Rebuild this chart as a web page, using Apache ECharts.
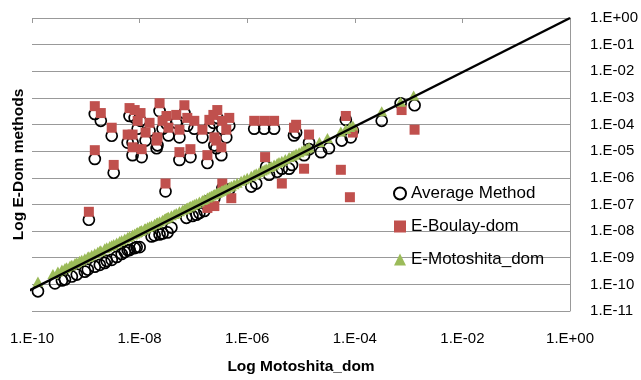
<!DOCTYPE html>
<html>
<head>
<meta charset="utf-8">
<script src="https://cdn.jsdelivr.net/npm/echarts@6/dist/echarts.min.js"></script>
<style>
  html, body { margin: 0; padding: 0; background: #fff; }
  #chart { width: 641px; height: 380px; }
</style>
</head>
<body>
<div id="chart"></div>
<script>
// tick labels
const xTickLabels = ['1.E-10', '1.E-08', '1.E-06', '1.E-04', '1.E-02', '1.E+00']
const yTickLabels = ['1.E-11', '1.E-10', '1.E-09', '1.E-08', '1.E-07', '1.E-06',
  '1.E-05', '1.E-04', '1.E-03', '1.E-02', '1.E-01', '1.E+00']

// [Motoshita_dom, Average Method]
const averagePoints = [
  [1.47e-9, 2.5e-4], [1.9e-9, 1.38e-4], [3.03e-9, 3.8e-5], [1.47e-9, 5.1e-6], [3.3e-9, 1.55e-6],
  [6.5e-9, 2.1e-4], [8.1e-9, 1.78e-4], [1.04e-8, 1.38e-4], [6.0e-9, 2.1e-5], [7.4e-9, 2.1e-5],
  [7.4e-9, 7.1e-6], [1.09e-8, 6.0e-6], [9.2e-9, 7.0e-5], [1.53e-8, 5.9e-5], [1.29e-8, 2.5e-5],
  [2.35e-8, 3.2e-4], [2.15e-8, 1.66e-5], [2.07e-8, 1.29e-5], [2.67e-8, 7.0e-5], [3.16e-8, 1.07e-4],
  [3.44e-8, 3.9e-5], [4.8e-8, 1.16e-4], [6.8e-8, 2.7e-4], [5.5e-8, 3.3e-5], [7.7e-8, 9.0e-5],
  [1.04e-7, 7.0e-5], [5.5e-8, 4.7e-6], [8.8e-8, 6.0e-6], [1.47e-7, 3.3e-5], [1.98e-7, 7.6e-5],
  [2.78e-7, 1.78e-4], [2.35e-7, 1.16e-4], [3.44e-7, 7.0e-5], [4.64e-7, 9.0e-5], [4.08e-7, 3.3e-5],
  [2.45e-7, 1.66e-5], [2.67e-7, 1.29e-5], [3.3e-7, 7.1e-6], [1.82e-7, 3.6e-6], [1.35e-6, 7.0e-5],
  [2.07e-6, 7.0e-5], [3.16e-6, 7.0e-5], [8.1e-6, 5.0e-5], [7.4e-6, 3.9e-5], [1.41e-5, 2.1e-5],
  [6.8e-5, 1.5e-4], [3.03e-8, 3.1e-7], [1.14e-9, 2.67e-8], [2.25e-6, 2.6e-6], [3.44e-7, 4.0e-7],
  [4.64e-7, 3.7e-7], [2.45e-7, 1.7e-7], [1.82e-7, 1.3e-7], [4.4e-6, 2.2e-6], [1.14e-5, 7.1e-6],
  [5.7e-5, 2.5e-5], [8.4e-5, 3.3e-5], [7.1e-4, 6.3e-4], [1.29e-3, 5.3e-4], [9.2e-5, 5.9e-5],
  [1.29e-10, 5.5e-11], [2.67e-10, 1.09e-10], [3.6e-10, 1.4e-10], [4.1e-10, 1.53e-10], [5.5e-10, 1.97e-10],
  [6.8e-10, 2.33e-10], [9.6e-10, 3.0e-10], [1.09e-9, 3.6e-10], [1.47e-9, 4.6e-10], [1.82e-9, 5.4e-10],
  [2.25e-9, 6.4e-10], [2.45e-9, 7.6e-10], [3.03e-9, 8.3e-10], [3.75e-9, 1.07e-9], [4.64e-9, 1.38e-9],
  [5.3e-9, 1.63e-9], [6.0e-9, 1.94e-9], [6.5e-9, 1.94e-9], [8.1e-9, 2.3e-9], [8.8e-9, 2.5e-9],
  [1.0e-8, 2.5e-9], [1.67e-8, 6.3e-9], [1.9e-8, 6.9e-9], [2.35e-8, 7.5e-9], [2.67e-8, 8.2e-9],
  [3.3e-8, 8.9e-9], [3.9e-8, 1.36e-8], [7.4e-8, 3.16e-8], [9.6e-8, 3.7e-8], [1.14e-7, 4.1e-8],
  [1.29e-7, 4.8e-8], [1.6e-7, 5.7e-8], [1.19e-6, 4.7e-7], [1.47e-6, 6.1e-7], [2.55e-6, 1.31e-6],
  [3.6e-6, 1.69e-6], [6.0e-6, 2.2e-6], [6.8e-6, 3.05e-6], [1.41e-5, 1.19e-5], [2.35e-5, 9.2e-6],
  [3.3e-5, 1.29e-5], [3.16e-4, 1.38e-4]
]

// [Motoshita_dom, E-Boulay-dom]
const boulayPoints = [
  [1.47e-9, 4.9e-4], [1.9e-9, 2.7e-4], [3.03e-9, 7.6e-5], [1.47e-9, 1.09e-5], [3.3e-9, 3.05e-6],
  [6.5e-9, 4.15e-4], [8.1e-9, 3.5e-4], [1.04e-8, 2.7e-4], [6.0e-9, 4.2e-5], [7.4e-9, 4.2e-5],
  [7.4e-9, 1.4e-5], [1.09e-8, 1.19e-5], [9.2e-9, 1.38e-4], [1.53e-8, 1.16e-4], [1.29e-8, 5.0e-5],
  [2.35e-8, 6.3e-4], [2.15e-8, 3.3e-5], [2.07e-8, 2.5e-5], [2.67e-8, 1.38e-4], [3.16e-8, 2.1e-4],
  [3.44e-8, 7.6e-5], [4.8e-8, 2.3e-4], [6.8e-8, 5.3e-4], [5.5e-8, 6.4e-5], [7.7e-8, 1.78e-4],
  [1.04e-7, 1.38e-4], [5.5e-8, 9.2e-6], [8.8e-8, 1.19e-5], [1.47e-7, 6.4e-5], [1.98e-7, 1.5e-4],
  [2.78e-7, 3.5e-4], [2.35e-7, 2.3e-4], [3.44e-7, 1.38e-4], [4.64e-7, 1.78e-4], [4.08e-7, 6.4e-5],
  [2.45e-7, 3.3e-5], [2.67e-7, 2.5e-5], [3.3e-7, 1.4e-5], [1.82e-7, 7.1e-6], [1.35e-6, 1.38e-4],
  [2.07e-6, 1.38e-4], [3.16e-6, 1.38e-4], [8.1e-6, 9.8e-5], [7.4e-6, 7.6e-5], [1.41e-5, 4.2e-5],
  [6.8e-5, 2.1e-4], [3.03e-8, 6.1e-7], [1.14e-9, 5.3e-8], [2.15e-6, 6.0e-6], [3.44e-7, 6.1e-7],
  [5.06e-7, 1.72e-7], [2.45e-7, 8.7e-8], [1.82e-7, 7.4e-8], [4.4e-6, 6.1e-7], [1.14e-5, 2.2e-6],
  [5.5e-5, 2.0e-6], [8.1e-5, 1.87e-7], [7.4e-4, 3.5e-4], [1.29e-3, 6.4e-5], [9.2e-5, 5.0e-5]
]

// [Motoshita_dom, E-Motoshita_dom]
const motoshitaPoints = [
  [1.29e-10, 1.29e-10], [2.45e-10, 2.45e-10], [3.03e-10, 3.03e-10], [3.6e-10, 3.6e-10], [4.1e-10, 4.1e-10],
  [4.4e-10, 4.4e-10], [5.1e-10, 5.1e-10], [5.5e-10, 5.5e-10], [6.3e-10, 6.3e-10], [6.8e-10, 6.8e-10],
  [7.7e-10, 7.7e-10], [8.4e-10, 8.4e-10], [9.6e-10, 9.6e-10], [1.09e-9, 1.09e-9], [1.14e-9, 1.14e-9],
  [1.29e-9, 1.29e-9], [1.47e-9, 1.47e-9], [1.67e-9, 1.67e-9], [1.82e-9, 1.82e-9], [1.9e-9, 1.9e-9],
  [2.25e-9, 2.25e-9], [2.45e-9, 2.45e-9], [2.78e-9, 2.78e-9], [3.03e-9, 3.03e-9], [3.3e-9, 3.3e-9],
  [3.75e-9, 3.75e-9], [4.26e-9, 4.26e-9], [4.64e-9, 4.64e-9], [5.3e-9, 5.3e-9], [6.0e-9, 6.0e-9],
  [6.5e-9, 6.5e-9], [7.4e-9, 7.4e-9], [8.1e-9, 8.1e-9], [8.8e-9, 8.8e-9], [9.2e-9, 9.2e-9],
  [1.0e-8, 1.0e-8], [1.04e-8, 1.04e-8], [1.09e-8, 1.09e-8], [1.24e-8, 1.24e-8], [1.29e-8, 1.29e-8],
  [1.41e-8, 1.41e-8], [1.53e-8, 1.53e-8], [1.67e-8, 1.67e-8], [1.9e-8, 1.9e-8], [2.07e-8, 2.07e-8],
  [2.15e-8, 2.15e-8], [2.35e-8, 2.35e-8], [2.67e-8, 2.67e-8], [2.9e-8, 2.9e-8], [3.03e-8, 3.03e-8],
  [3.16e-8, 3.16e-8], [3.3e-8, 3.3e-8], [3.44e-8, 3.44e-8], [3.9e-8, 3.9e-8], [4.4e-8, 4.4e-8],
  [4.8e-8, 4.8e-8], [5.5e-8, 5.5e-8], [6.3e-8, 6.3e-8], [6.8e-8, 6.8e-8], [7.4e-8, 7.4e-8],
  [7.7e-8, 7.7e-8], [8.4e-8, 8.4e-8], [8.8e-8, 8.8e-8], [9.6e-8, 9.6e-8], [1.04e-7, 1.04e-7],
  [1.14e-7, 1.14e-7], [1.29e-7, 1.29e-7], [1.47e-7, 1.47e-7], [1.6e-7, 1.6e-7], [1.82e-7, 1.82e-7],
  [1.98e-7, 1.98e-7], [2.15e-7, 2.15e-7], [2.35e-7, 2.35e-7], [2.45e-7, 2.45e-7], [2.67e-7, 2.67e-7],
  [2.78e-7, 2.78e-7], [3.03e-7, 3.03e-7], [3.3e-7, 3.3e-7], [3.44e-7, 3.44e-7], [3.75e-7, 3.75e-7],
  [4.08e-7, 4.08e-7], [4.64e-7, 4.64e-7], [5.06e-7, 5.06e-7], [5.7e-7, 5.7e-7], [6.5e-7, 6.5e-7],
  [7.7e-7, 7.7e-7], [8.8e-7, 8.8e-7], [1.0e-6, 1.0e-6], [1.19e-6, 1.19e-6], [1.35e-6, 1.35e-6],
  [1.47e-6, 1.47e-6], [1.67e-6, 1.67e-6], [1.9e-6, 1.9e-6], [2.07e-6, 2.07e-6], [2.25e-6, 2.25e-6],
  [2.55e-6, 2.55e-6], [2.78e-6, 2.78e-6], [3.16e-6, 3.16e-6], [3.6e-6, 3.6e-6], [3.9e-6, 3.9e-6],
  [4.4e-6, 4.4e-6], [5.1e-6, 5.1e-6], [6.0e-6, 6.0e-6], [6.8e-6, 6.8e-6], [7.4e-6, 7.4e-6],
  [8.1e-6, 8.1e-6], [9.2e-6, 9.2e-6], [1.04e-5, 1.04e-5], [1.14e-5, 1.14e-5], [1.29e-5, 1.29e-5],
  [1.41e-5, 1.41e-5], [2.2e-5, 2.2e-5], [3.1e-5, 3.1e-5], [5.5e-5, 5.5e-5], [6.8e-5, 6.8e-5],
  [8.1e-5, 8.1e-5], [9.2e-5, 9.2e-5], [3.16e-4, 3.16e-4], [7.1e-4, 7.1e-4], [1.24e-3, 1.24e-3]
]

// 1:1 reference line
const linePoints = [[7.7e-11, 5.1e-11], [1, 1]]

const chart = echarts.init(document.getElementById('chart'))
const font = "'Liberation Sans', Arial, sans-serif"
const expOf = v => Math.round(Math.log10(v))

const option = {
  animation: false,
  textStyle: { fontFamily: font },
  grid: { left: 32, right: 69, top: 18, bottom: 63 },
  legend: {
    orient: 'vertical',
    left: 393,
    top: 185,
    itemWidth: 12,
    itemHeight: 12,
    itemGap: 16,
    padding: 0,
    textStyle: { fontSize: 17, color: '#000', fontFamily: font },
    data: [
      { name: 'Average Method', icon: 'circle' },
      { name: 'E-Boulay-dom', icon: 'rect' },
      { name: 'E-Motoshita_dom', icon: 'triangle' }
    ]
  },
  xAxis: [
    {
      type: 'log',
      logBase: 10,
      min: 1e-10,
      max: 1,
      interval: 2,
      position: 'bottom',
      name: 'Log Motoshita_dom',
      nameLocation: 'middle',
      nameGap: 48,
      nameTextStyle: { fontSize: 15.5, fontWeight: 'bold', color: '#000', fontFamily: font },
      axisLine: { show: false },
      axisTick: { show: false },
      splitLine: { show: false },
      axisLabel: {
        fontSize: 15,
        color: '#000',
        margin: 20,
        formatter: v => xTickLabels[(expOf(v) + 10) / 2] || ''
      }
    },
    {
      type: 'log',
      logBase: 10,
      min: 1e-10,
      max: 1,
      interval: 2,
      position: 'top',
      axisLine: { show: false },
      axisTick: { show: true, inside: true, length: 5, lineStyle: { color: '#999' } },
      axisLabel: { show: false },
      splitLine: { show: false }
    }
  ],
  yAxis: [
    {
      type: 'log',
      logBase: 10,
      min: 1e-11,
      max: 1,
      interval: 1,
      position: 'right',
      axisLine: { show: true, lineStyle: { color: '#999', width: 1 } },
      axisTick: { show: false },
      splitLine: { show: true, lineStyle: { color: '#999', width: 1 } },
      axisLabel: {
        fontSize: 15,
        color: '#000',
        margin: 20,
        formatter: v => yTickLabels[expOf(v) + 11] || ''
      }
    },
    {
      type: 'log',
      logBase: 10,
      min: 1e-11,
      max: 1,
      position: 'left',
      name: 'Log E-Dom methods',
      nameLocation: 'middle',
      nameGap: 5,
      nameTextStyle: { fontSize: 15.5, fontWeight: 'bold', color: '#000', fontFamily: font },
      axisLine: { show: false },
      axisTick: { show: false },
      axisLabel: { show: false },
      splitLine: { show: false }
    }
  ],
  series: [
    {
      name: 'Average Method',
      type: 'scatter',
      symbol: 'circle',
      symbolSize: 11,
      data: averagePoints,
      itemStyle: { color: 'rgba(255,255,255,0)', borderColor: '#000', borderWidth: 1.7, opacity: 1 }
    },
    {
      name: 'E-Boulay-dom',
      type: 'scatter',
      symbol: 'rect',
      symbolSize: 10,
      data: boulayPoints,
      itemStyle: { color: '#C0504D', opacity: 1 }
    },
    {
      name: 'E-Motoshita_dom',
      type: 'scatter',
      symbol: 'triangle',
      symbolSize: [11, 10],
      data: motoshitaPoints,
      itemStyle: { color: '#9BBB59', opacity: 1 }
    },
    {
      name: 'y = x',
      type: 'line',
      data: linePoints,
      symbol: 'none',
      clip: false,
      silent: true,
      lineStyle: { color: '#000', width: 2.5 },
      z: 5
    }
  ]
}

chart.setOption(option)
</script>
</body>
</html>
